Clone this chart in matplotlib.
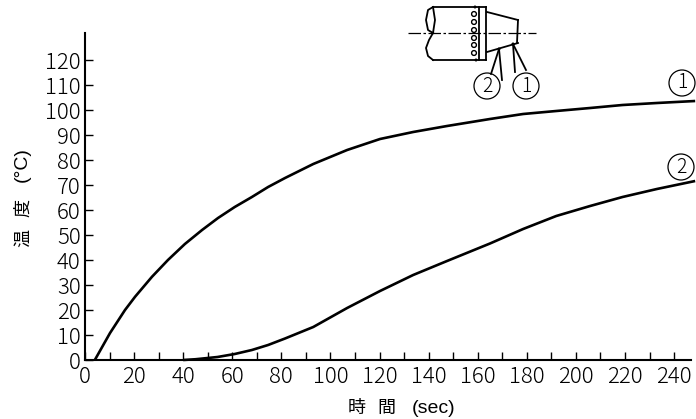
#!/usr/bin/env python3
"""Temperature rise over time at two points on a nozzle."""

import matplotlib

matplotlib.use("Agg")
import matplotlib.pyplot as plt
from matplotlib.patches import Circle

plt.rcParams["font.family"] = ["Noto Sans CJK JP", "DejaVu Sans"]

W, H = 696, 419

# curve 1
time_1 = [4, 10.2, 16.3, 20.4, 27.3, 33.8, 40.7, 47.7, 54.2, 61, 68, 74.6, 81.5,
          93, 106.8, 120.2, 133.7, 147.5, 165, 178.5, 192, 205.8, 219, 233, 248.6]
temp_1 = [0, 10.8, 20, 25.3, 33.3, 40, 46.4, 52, 56.8, 61.2, 65.2, 69.2, 72.8,
          78.4, 84, 88.4, 91.2, 93.6, 96.4, 98.4, 99.6, 100.8, 102, 102.8, 103.6]

# curve 2
time_2 = [40, 45, 54, 61, 68, 74.6, 81.5, 93, 106.8, 120.2, 133.7, 147.5, 165,
          178.5, 192, 205.8, 219, 233, 248.6]
temp_2 = [0, 0.3, 1.2, 2.4, 4, 6, 8.6, 13.2, 20.8, 27.6, 34, 39.6, 46.6,
          52.4, 57.6, 61.6, 65.2, 68.4, 71.6]

x_ticks = list(range(0, 250, 10))
x_labels = [str(t) if t % 20 == 0 else "" for t in x_ticks]
y_ticks = list(range(0, 130, 10))


def px(x, y):
    """Pixel position (y down) to figure fraction."""
    return x / W, 1 - y / H


fig = plt.figure(figsize=(W / 100, H / 100), dpi=100)
ax = fig.add_axes([85 / W, (H - 360) / H, 606 / W, 327 / H])
ax.set_xlim(0, 246.9)
ax.set_ylim(0, 130.8)

ax.plot(time_1, temp_1, color="black", lw=1.9, solid_capstyle="butt", clip_on=False)
ax.plot(time_2, temp_2, color="black", lw=1.9, solid_capstyle="butt", clip_on=False)

for side in ["top", "right"]:
    ax.spines[side].set_visible(False)
for side in ["left", "bottom"]:
    ax.spines[side].set_linewidth(1.5)

ax.set_xticks(x_ticks)
ax.set_xticklabels(x_labels, fontsize=16, fontweight="light")
ax.set_yticks(y_ticks)
ax.set_yticklabels([str(t) for t in y_ticks], fontsize=16, fontweight="light")
ax.tick_params(axis="both", direction="in", length=6, width=1)
ax.tick_params(axis="x", pad=4.5)
ax.tick_params(axis="y", pad=3)

latin = "Liberation Sans"
fig.text(*px(372, 408), "時   間", fontsize=13, ha="center", va="center")
fig.text(*px(434, 408), "(sec)", fontsize=14, family=latin, ha="center", va="center")
fig.text(*px(24, 223), "温   度", fontsize=13, ha="center", va="center", rotation=90)
fig.text(*px(22, 165), "(°C)", fontsize=14, family=latin, ha="center", va="center",
         rotation=90)

# overlay in pixel coordinates for the nozzle sketch and curve labels
over = fig.add_axes([0, 0, 1, 1], facecolor="none")
over.set_xlim(0, W)
over.set_ylim(H, 0)
over.axis("off")

for label, x, y in [("1", 682, 83), ("2", 681, 167), ("2", 487, 86), ("1", 526, 86)]:
    over.add_patch(Circle((x, y), 13, fill=False, ec="black", lw=0.9))
    over.text(x, y, label, fontsize=14, fontweight="light", ha="center", va="center")

sketch = [
    ([433, 486], [7, 7]), ([433, 486], [60, 60]),
    ([486, 486], [7, 60]), ([479, 479], [7, 60]),
    ([487, 518], [12, 20]), ([487, 518], [52, 43]), ([518, 517], [20, 43]),
    ([499, 491], [49, 74]), ([499, 502], [49, 80]),
    ([513, 515], [44, 72]), ([513, 526], [44, 70]),
    # broken end of the shaft
    ([433, 428, 426, 428, 433], [7, 10, 20, 30, 33]),
    ([433, 435, 433], [7, 20, 33]),
    ([433, 429, 426, 428, 433], [33, 40, 48, 56, 60]),
]
for xs, ys in sketch:
    over.plot(xs, ys, color="black", lw=1.3)
over.plot([408, 536], [33, 33], color="black", lw=0.9, dashes=(10, 2, 2, 2))
for y in [14, 22, 30, 38, 45, 53]:
    over.add_patch(Circle((474, y), 2.4, fill=False, ec="black", lw=1))
for x, y in [(475, 7), (476, 60), (499, 49), (513, 44)]:
    over.add_patch(Circle((x, y), 1.5, fc="black", ec="none"))

fig.savefig("out.png", dpi=100)
